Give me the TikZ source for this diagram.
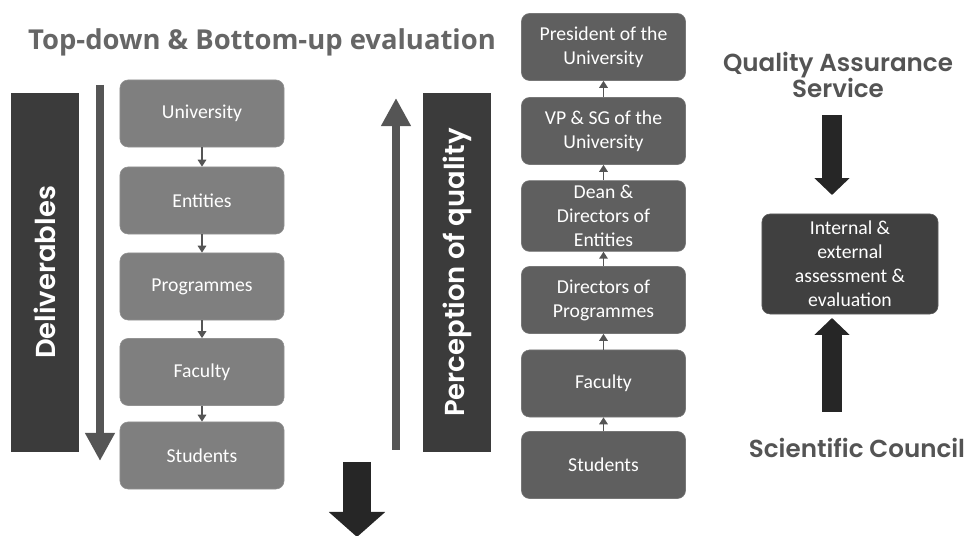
\documentclass[tikz,border=0pt]{standalone}
\usepackage{fontspec}
\setmainfont{Carlito}
\newfontfamily\titlefont{Open Sans}
\newfontfamily\gothfont{Poppins}[BoldFont={* SemiBold}]
\usetikzlibrary{arrows.meta}
\definecolor{lightbox}{HTML}{7F7F7F}
\definecolor{midbox}{HTML}{5F5F5F}
\definecolor{darkbox}{HTML}{404040}
\definecolor{barcol}{HTML}{3B3B3B}
\definecolor{arrowgray}{HTML}{555555}
\definecolor{headgray}{HTML}{666666}
\definecolor{sidegray}{HTML}{545454}
\tikzset{
    block/.style    = { rectangle, rounded corners=0.2cm, fill=lightbox,
	draw=lightbox!85!white, text=white, align=center,
	minimum width=4.1cm, minimum height=1.675cm,
	font=\fontsize{14}{17}\selectfont },
	upblock/.style  = { block, fill=midbox, draw=midbox!85!white },
	evalblock/.style = { block, fill=darkbox, draw=darkbox!85!white,
	minimum width=4.4cm, minimum height=2.5cm },
	bar/.style      = { rectangle, fill=barcol, text=white, rotate=90,
	minimum width=8.975cm, minimum height=1.7cm,
	font=\gothfont\bfseries\fontsize{19.5}{22}\selectfont },
	heading/.style  = { text=sidegray, align=center,
	font=\gothfont\bfseries\fontsize{17.5}{19}\selectfont },
	line/.style     = { draw=arrowgray, line width=1.2pt,
	-{Triangle[width=6pt,length=5pt]} },
	slim/.style     = { draw=arrowgray, line width=0.2cm,
	-{Triangle[width=0.7cm,length=0.7cm]} },
	fat/.style      = { draw=black!85, line width=0.52cm,
	-{Triangle[width=0.85cm,length=0.42cm]} },
}

\begin{document}
\begin{tikzpicture}[x=0.025cm,y=-0.025cm]
\useasboundingbox (0,0) rectangle (976,536);

% title
\node (title) at (262,42) [text=headgray, font=\titlefont\bfseries\fontsize{19.5}{22}\selectfont] {Top-down \& Bottom-up evaluation};

% top-down column
\node (deliv) at (45,272.5) [bar] {Deliverables};
\node (u1) at (202,113.5) [block] {University};
\node (u2) at (202,200.5) [block] {Entities};
\node (u3) at (202,286.5) [block] {Programmes};
\node (u4) at (202,372) [block] {Faculty};
\node (u5) at (202,455.5) [block] {Students};
\foreach \a/\b in {u1/u2,u2/u3,u3/u4,u4/u5}
	\path[line] (\a) -- (\b);
\coordinate (dtop) at (100,85);
\coordinate (dend) at (100,461);
\path[slim] (dtop) -- (dend);

% bottom-up column
\node (perc) at (457,272.5) [bar] {Perception of quality};
\coordinate (pbot) at (396,450);
\coordinate (ptop) at (396,98);
\path[slim] (pbot) -- (ptop);
\coordinate (otop) at (357,462);
\coordinate (oend) at (357,537);
\path[fat, line width=0.7cm, -{Triangle[width=1.375cm,length=0.625cm]}] (otop) -- (oend);

\node (r1) at (603.5,47) [upblock] {President of the\\University};
\node (r2) at (603.5,131) [upblock] {VP \& SG of the\\University};
\node (r3) at (603.5,216) [upblock] {Dean \&\\Directors of\\Entities};
\node (r4) at (603.5,300) [upblock] {Directors of\\Programmes};
\node (r5) at (603.5,383.5) [upblock] {Faculty};
\node (r6) at (603.5,465) [upblock] {Students};
\foreach \a/\b in {r6/r5,r5/r4,r4/r3,r3/r2,r2/r1}
	\path[line] (\a) -- (\b);

% assessment
\node (qas) at (838,75) [heading] {Quality Assurance\\Service};
\node (ev) at (850,264) [evalblock] {Internal \&\\external\\assessment \&\\evaluation};
\node (sc) at (857,448) [heading] {Scientific Council};
\coordinate (qa1) at (832,115);
\coordinate (qa2) at (832,195);
\coordinate (sc1) at (832,412);
\coordinate (sc2) at (832,318);
\path[fat] (qa1) -- (qa2);
\path[fat] (sc1) -- (sc2);
\end{tikzpicture}
\end{document}
